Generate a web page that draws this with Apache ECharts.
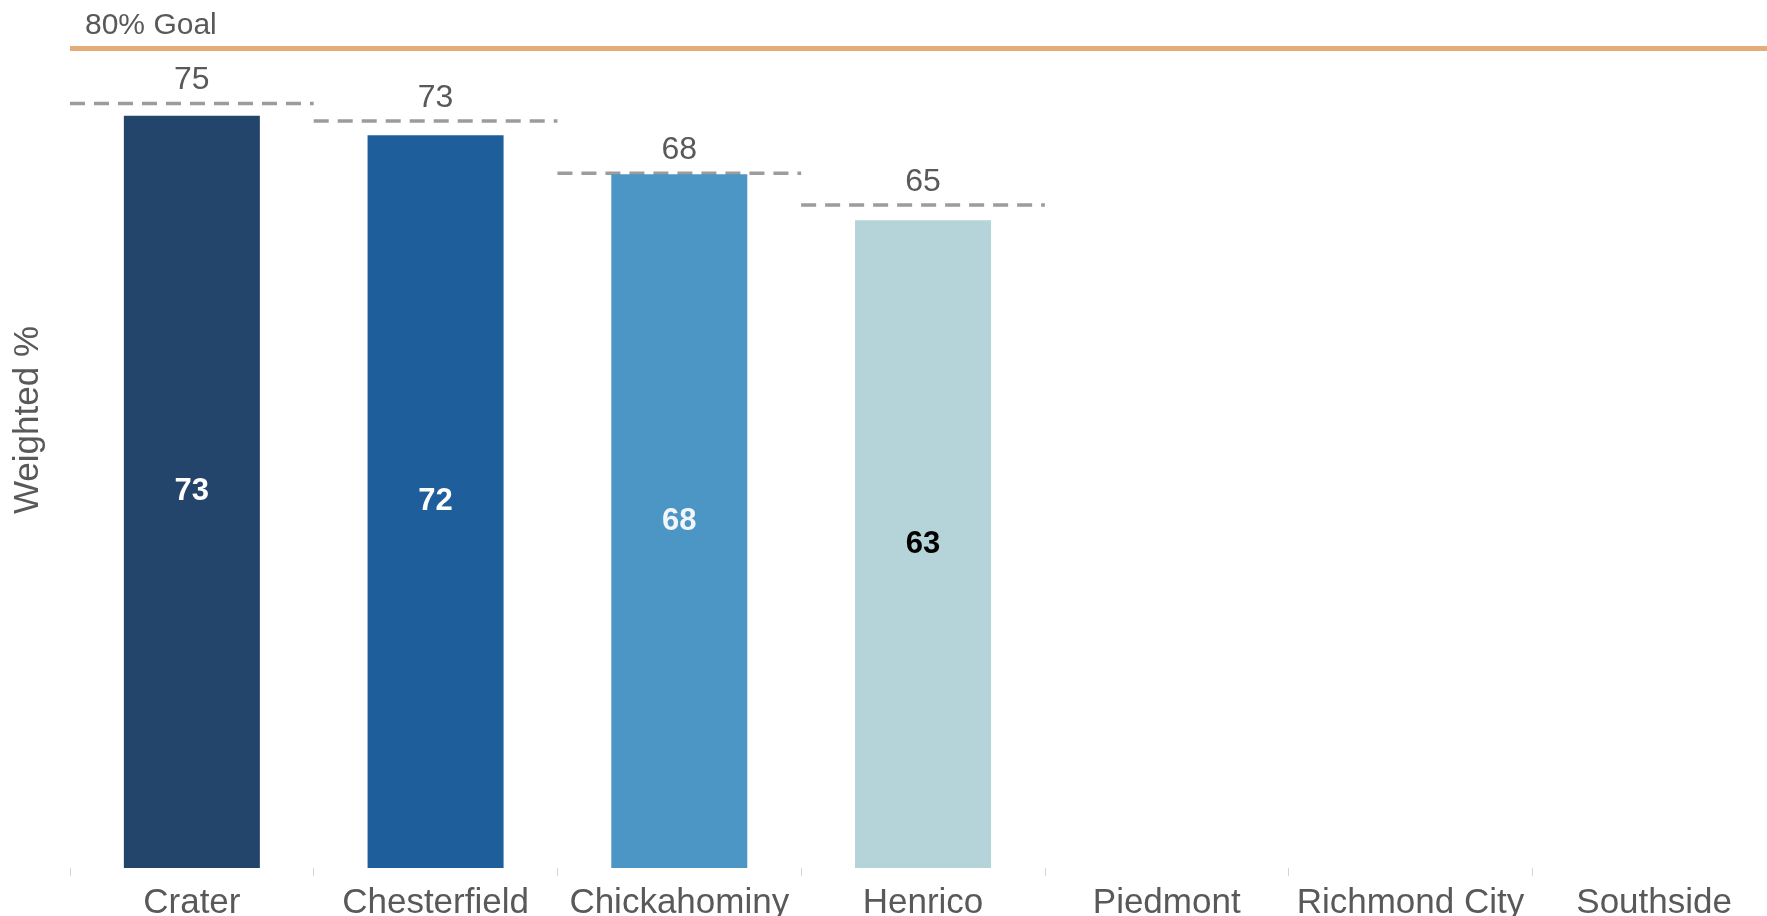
<!DOCTYPE html>
<html>
<head>
<meta charset="utf-8">
<title>Weighted %</title>
<script src="https://cdn.jsdelivr.net/npm/echarts@6/dist/echarts.min.js"></script>
<style>
  html, body { margin: 0; padding: 0; background: #fff; }
  #chart { width: 1767px; height: 916px; }
</style>
</head>
<body>
<div id="chart"></div>
<script>
// regions along the x axis
const regions = ['Crater', 'Chesterfield', 'Chickahominy', 'Henrico', 'Piedmont', 'Richmond City', 'Southside']
// bar values (weighted %), empty regions have no bar
const weighted = [73.4, 71.5, 67.7, 63.2, null, null, null]
// dashed reference marks above each bar
const reference = [74.6, 72.9, 67.8, 64.7, null, null, null]
const goal = 80

const barColors = ['#24456b', '#1d5e9b', '#4b96c4', '#b5d4d9']
const labelColors = ['#ffffff', '#ffffff', '#f2f6fa', '#000000']

const font = "'Liberation Sans', sans-serif"
const grey = '#595959'

const chart = echarts.init(document.getElementById('chart'))

chart.setOption({
  animation: false,
  grid: { left: 70, right: -9, top: 0, bottom: 48, outerBoundsMode: 'none' },
  xAxis: {
    type: 'category',
    data: regions,
    axisLine: { show: false },
    axisTick: { show: true, length: 8, lineStyle: { color: '#d4d4d4', width: 1 } },
    axisLabel: { color: grey, fontFamily: font, fontSize: 35, margin: 18, interval: 0 }
  },
  yAxis: {
    type: 'value',
    min: 0,
    max: 84.7,
    name: 'Weighted %',
    nameLocation: 'middle',
    nameGap: 24,
    nameTextStyle: { color: grey, fontFamily: font, fontSize: 35, padding: [0, 0, 0, 28] },
    axisLine: { show: false },
    axisTick: { show: false },
    axisLabel: { show: false },
    splitLine: { show: false }
  },
  series: [
    {
      type: 'bar',
      barWidth: 136,
      data: weighted.map((v, i) => v == null ? null : {
        value: v,
        itemStyle: { color: barColors[i] },
        label: { color: labelColors[i] }
      }),
      label: {
        show: true,
        position: 'inside',
        fontFamily: font,
        fontWeight: 'bold',
        fontSize: 31,
        formatter: p => Math.round(p.value)
      },
      markLine: {
        silent: true,
        symbol: 'none',
        lineStyle: { color: '#e4ac78', width: 5, type: 'solid' },
        label: {
          position: 'insideStartTop',
          distance: [15, 7],
          formatter: goal + '% Goal',
          color: grey,
          fontFamily: font,
          fontSize: 30
        },
        data: [{ yAxis: goal }]
      }
    },
    {
      type: 'custom',
      data: reference.map((v, i) => [i, v]).filter(d => d[1] != null),
      renderItem (params, api) {
        const v = api.value(1)
        const p = api.coord([api.value(0), v])
        const w = api.size([1, 0])[0]
        return {
          type: 'group',
          children: [
            {
              type: 'line',
              shape: { x1: p[0] - w / 2, y1: p[1], x2: p[0] + w / 2, y2: p[1] },
              style: { stroke: '#9c9c9c', lineWidth: 3.5, lineDash: [15, 9] }
            },
            {
              type: 'text',
              x: p[0],
              y: p[1] - 7,
              style: {
                text: String(Math.round(v)),
                fill: grey,
                font: '32px ' + font,
                align: 'center',
                verticalAlign: 'bottom'
              }
            }
          ]
        }
      }
    }
  ]
})
</script>
</body>
</html>
